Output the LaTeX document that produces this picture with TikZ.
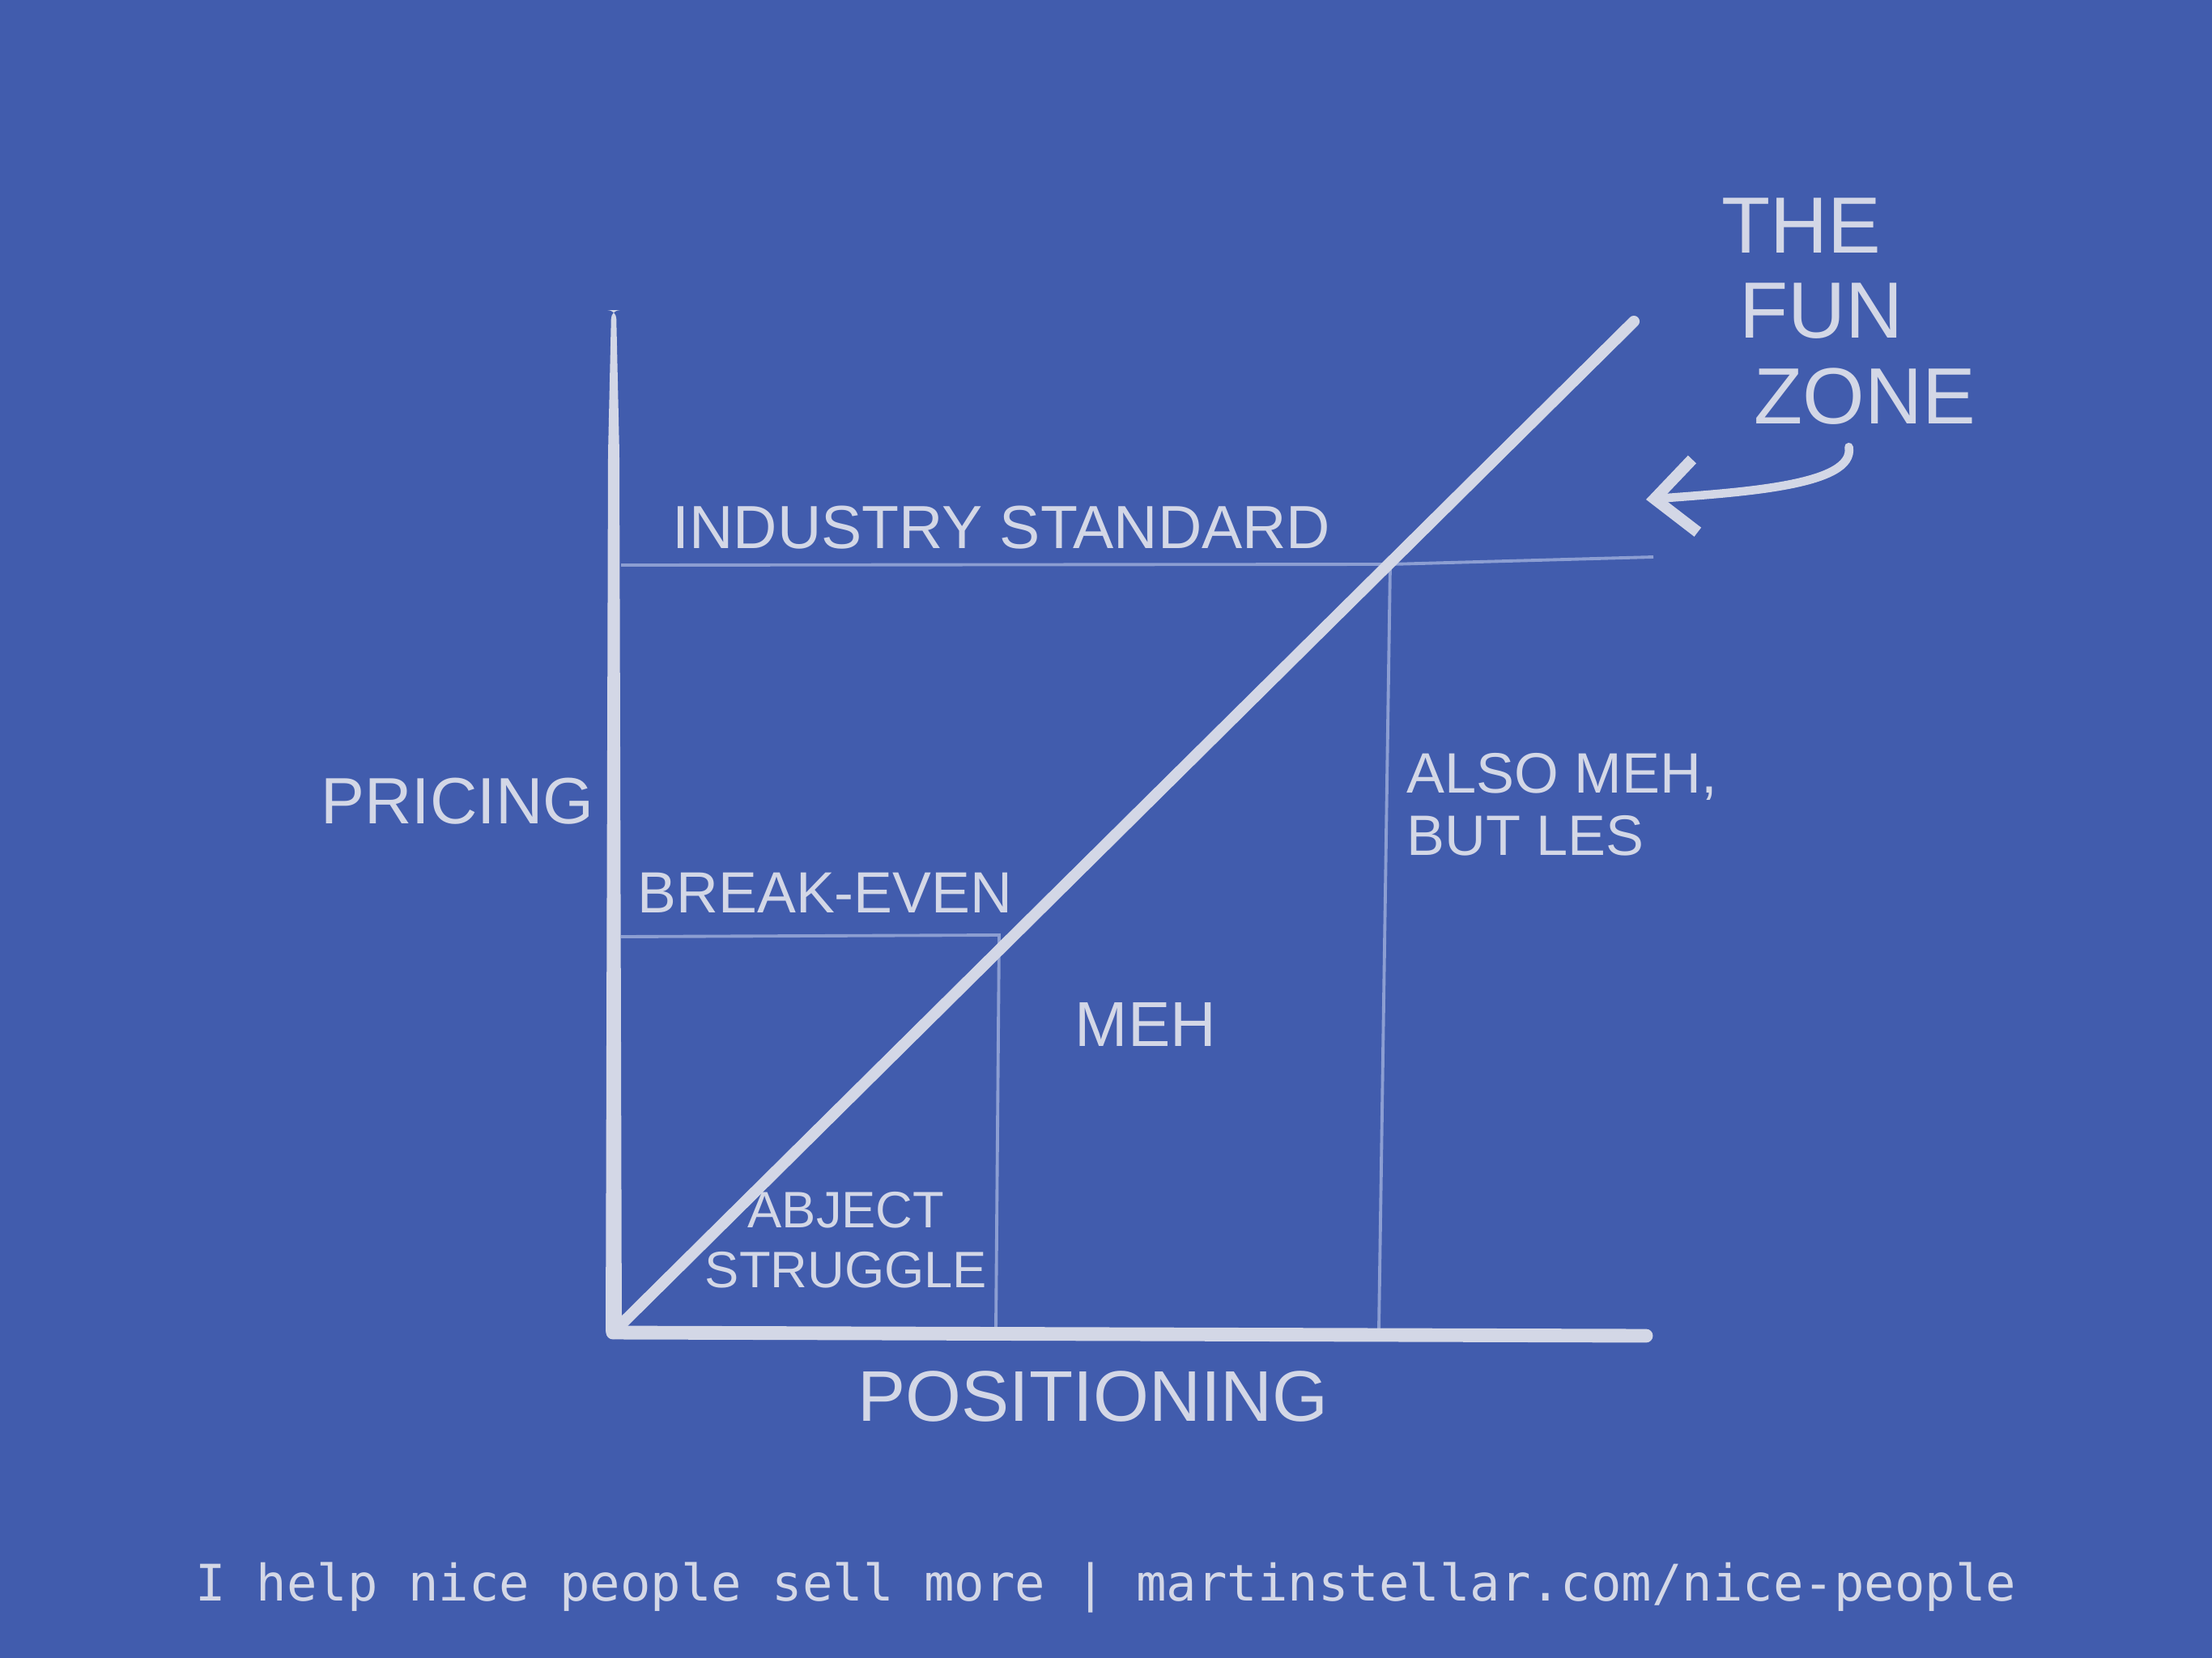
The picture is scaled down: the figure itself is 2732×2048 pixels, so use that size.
\documentclass[tikz,border=0pt]{standalone}
\usepackage{fontspec}
\setmainfont{Liberation Sans}
\newfontfamily\footfont{DejaVu Sans Mono}
\usetikzlibrary{arrows.meta}
\definecolor{board}{RGB}{65,92,173}
\definecolor{chalk}{RGB}{211,215,230}
\definecolor{faint}{RGB}{140,158,210}

\begin{document}
\begin{tikzpicture}[x=0.01cm, y=-0.01cm,
    axis/.style ={draw=chalk, line width=4.8pt, line cap=round},
    slope/.style ={draw=chalk, line width=4pt, line cap=round},
    guide/.style ={draw=faint, line width=1.1pt},
    scrawl/.style ={text=chalk, inner sep=0pt},
    pointer/.style ={draw=chalk, line width=3pt, line cap=round, line join=round,
                     -{Straight Barb[length=5mm,width=9mm,line width=4pt]}}]
   \fill[board] (0,0) rectangle (2732,2048);
   \useasboundingbox (0,0) rectangle (2732,2048);

   \coordinate (O)    at (757,1646);
   \coordinate (xend) at (2033,1650);
   \coordinate (dend) at (2018,397);
   \coordinate (ind0) at (767,698);
   \coordinate (ind1) at (1717,697);
   \coordinate (ind2) at (2042,688);
   \coordinate (ind3) at (1703,1643);
   \coordinate (be0)  at (767,1157);
   \coordinate (be1)  at (1234,1155);
   \coordinate (be2)  at (1230,1643);
   \coordinate (tip)  at (2033,617);

   % guides
   \draw[guide] (ind0) -- (ind1) -- (ind2);
   \draw[guide] (ind1) -- (ind3);
   \draw[guide] (be0) -- (be1) -- (be2);

   % axes
   \fill[chalk, rounded corners=3pt] (748,1654) -- (751,560) -- (755,383) -- (761,383) -- (765,560) -- (768,1654) -- cycle;
   \draw[axis] (O) -- (xend);
   \draw[slope] (O) -- (dend);

   \node[scrawl, font=\fontsize{21.4}{24}\selectfont] (industry) at (1237,652) {INDUSTRY STANDARD};
   \node[scrawl, font=\fontsize{20.4}{24}\selectfont] (breakeven) at (1019,1103) {BREAK-EVEN};
   \node[scrawl, font=\fontsize{23}{26}\selectfont] (pricing) at (565,990) {PRICING};
   \node[scrawl, font=\fontsize{25.2}{28}\selectfont] (positioning) at (1350,1725) {POSITIONING};
   \node[scrawl, font=\fontsize{22.3}{24}\selectfont] (meh) at (1415,1266) {MEH};
   \node[scrawl, font=\fontsize{18}{21}\selectfont, align=center] (abject) at (1045,1532) {ABJECT\\STRUGGLE};
   \node[scrawl, font=\fontsize{20}{22}\selectfont, align=left, anchor=west] (alsomeh) at (1737,994) {ALSO MEH,\\BUT LES};
   \node[scrawl, font=\fontsize{28}{30}\selectfont, align=left, anchor=north west] (fun) at (2126,244)
        {THE\\\hspace{2.2mm}FUN\\\hspace{4mm}ZONE};

   \draw[pointer] ([yshift=-2.7mm]fun.south) .. controls (2292,600) and (2150,608) .. (tip);

   \node[text=chalk, font=\footfont\fontsize{17.7}{20}\selectfont, anchor=base] (footer) at (1366,1977)
        {I help nice people sell more | martinstellar.com/nice-people};
\end{tikzpicture}
\end{document}
